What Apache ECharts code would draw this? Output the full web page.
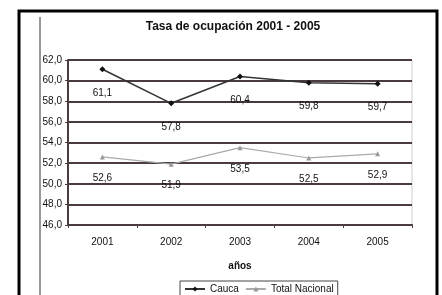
<!DOCTYPE html>
<html lang="es">
<head>
    <meta charset="UTF-8">
    <title>Tasa de ocupación</title>
    <script src="https://cdn.jsdelivr.net/npm/echarts@6/dist/echarts.min.js"></script>
    <style>
        html,body{margin:0;padding:0;background:#fff}
        #chart{width:442px;height:295px}
    </style>
</head>
<body>
    <div id="chart"></div>
    <script>
        // datos
        var years = ['2001', '2002', '2003', '2004', '2005'];
        var cauca = [61.1, 57.8, 60.4, 59.8, 59.7];
        var nacional = [52.6, 51.9, 53.5, 52.5, 52.9];
        var yMin = 46, yMax = 62, yStep = 2;

        var fnt = "'Liberation Sans Narrow', 'Liberation Sans', Arial, sans-serif";
        var coma = function (v) { return v.toFixed(1).replace('.', ','); };

        var chart = echarts.init(document.getElementById('chart'));
        var option = {
            animation: false,
            backgroundColor: '#fff',
            title: {
                text: 'Tasa de ocupación 2001 - 2005',
                left: 228, top: 16, textAlign: 'center',
                textStyle: {fontFamily: fnt, fontSize: 12, fontWeight: 'bold', color: '#111'}
            },
            graphic: [
                {type: 'rect', shape: {x: 19, y: 11, width: 418, height: 300},
                 style: {fill: 'none', stroke: '#000', lineWidth: 3}, z: 100},
                {type: 'line', shape: {x1: 40, y1: 17, x2: 40, y2: 300},
                 style: {stroke: '#333', lineWidth: 1}, z: 100}
            ],
            legend: {
                left: 180, top: 281,
                data: [{name: 'Cauca'}, {name: 'Total Nacional'}],
                itemWidth: 20, itemHeight: 6, itemGap: 6,
                borderColor: '#444', borderWidth: 1, padding: [3, 4, 8, 4],
                textStyle: {fontFamily: fnt, fontSize: 10, color: '#111'}
            },
            grid: {left: 68, right: 30, top: 60, bottom: 70, show: true, borderColor: '#ccc', borderWidth: 1},
            xAxis: {
                type: 'category',
                data: years,
                name: 'años',
                nameLocation: 'middle',
                nameGap: 36,
                nameTextStyle: {fontFamily: fnt, fontSize: 10, fontWeight: 'bold', color: '#111'},
                axisLine: {lineStyle: {color: '#4a3c3c', width: 2}},
                axisTick: {show: true, length: 3, lineStyle: {color: '#4a3c3c'}},
                axisLabel: {fontFamily: fnt, fontSize: 10, color: '#111', margin: 12}
            },
            yAxis: {
                type: 'value',
                min: yMin, max: yMax, interval: yStep,
                axisLine: {show: true, lineStyle: {color: '#4a3c3c', width: 2}},
                axisTick: {show: true, length: 3, lineStyle: {color: '#4a3c3c'}},
                axisLabel: {fontFamily: fnt, fontSize: 10, color: '#111', margin: 6, formatter: coma},
                splitLine: {lineStyle: {color: '#4a3c3c', width: 2}}
            },
            series: [
                {
                    name: 'Cauca', type: 'line', data: cauca,
                    symbol: 'diamond', symbolSize: 6,
                    itemStyle: {color: '#111'},
                    lineStyle: {color: '#333', width: 1.5},
                    label: {show: true, position: 'bottom', distance: 16,
                        fontFamily: fnt, fontSize: 10, color: '#111',
                        formatter: function (p) { return coma(p.value); }},
                    z: 5
                },
                {
                    name: 'Total Nacional', type: 'line', data: nacional,
                    symbol: 'triangle', symbolSize: 5,
                    itemStyle: {color: '#999'},
                    lineStyle: {color: '#aaa', width: 1.2},
                    label: {show: true, position: 'bottom', distance: 14,
                        fontFamily: fnt, fontSize: 10, color: '#111',
                        formatter: function (p) { return coma(p.value); }},
                    z: 4
                }
            ]
        };
        chart.setOption(option);
    </script>
</body>
</html>
